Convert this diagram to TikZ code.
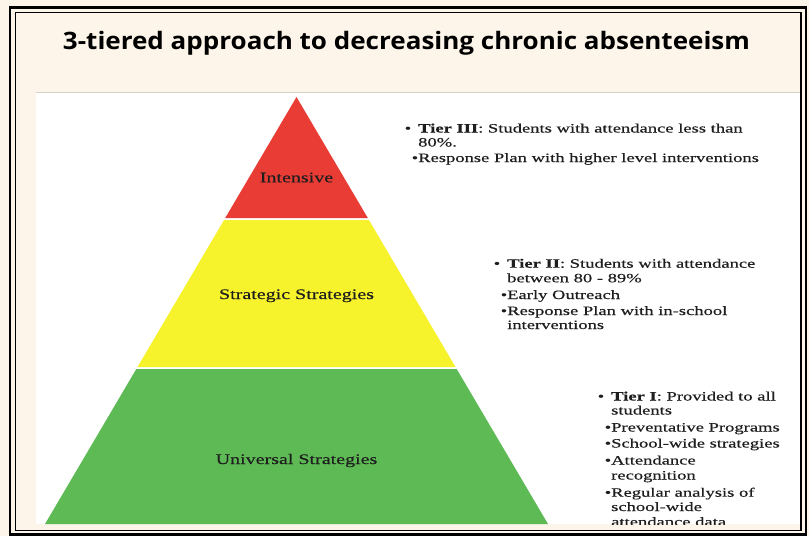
\documentclass[tikz,border=0pt]{standalone}
\usepackage{fontspec}
\usepackage{graphicx}
\setmainfont{Liberation Serif}
\newfontfamily\tms[FakeStretch=1.37,FakeBold=0.4]{Liberation Serif}
\newfontfamily\tmsb[FakeStretch=1.45,FakeBold=0.4]{Liberation Serif}
\newfontfamily\ttlfont{Open Sans}
\definecolor{cream}{HTML}{FDF5E9}
\definecolor{tred}{HTML}{E83C35}
\definecolor{tyellow}{HTML}{F6F22B}
\definecolor{tgreen}{HTML}{5DBA55}
\definecolor{txt}{HTML}{1E1E1E}
\definecolor{rule}{HTML}{D9D2C8}
\tikzset{
  lbl/.style={anchor=base, inner sep=0pt, text=txt, font=\tms\fontsize{14.6}{16}\selectfont},
  tl/.style={anchor=base west, inner sep=0pt, text=txt, font=\tmsb\fontsize{12.8}{14}\selectfont},
}
\newcommand{\firstbul}{\llap{•\hspace{7pt}}}
\newcommand{\subbul}{\llap{•}}
\begin{document}
\begin{tikzpicture}[x=1pt,y=-1pt]
\useasboundingbox (0,0) rectangle (809,536);
\fill[cream] (0,0) rectangle (809,536);
\draw[line width=2.4] (10,7.5) rectangle (806,534.5);
\draw[line width=1.4] (15.5,12.5) rectangle (801,530.5);
\fill[white] (36,92) rectangle (800,524);
\draw[rule, line width=0.8] (36,92) -- (800,92);
\node[anchor=base, inner sep=0pt, font=\ttlfont\bfseries\fontsize{24}{28}\selectfont] (title) at (406.5,49)
  {\resizebox{687pt}{\height}{3-tiered approach to decreasing chronic absenteeism}};
\begin{scope}
\clip (36,92) rectangle (800,524);
\fill[tred] (296.5,97) -- (367.8,218) -- (225.2,218) -- cycle;
\fill[tyellow] (224.1,220) -- (368.9,220) -- (455.5,367) -- (137.5,367) -- cycle;
\fill[tgreen] (136.3,369) -- (456.7,369) -- (548,524) -- (45,524) -- cycle;
\node[lbl] (intensive) at (296.5,182.3) {Intensive};
\node[lbl] (strategic) at (296.5,299) {Strategic Strategies};
\node[lbl] (universal) at (296.5,464) {Universal Strategies};
% Tier III
\node[tl] (a1) at (418,132.5) {\firstbul\textbf{Tier III}: Students with attendance less than};
\node[tl] (a2) at (418,146.5) {80\%.};
\node[tl] (a3) at (418,162) {\subbul Response Plan with higher level interventions};
% Tier II
\node[tl] (b1) at (507,267.7) {\firstbul\textbf{Tier II}: Students with attendance};
\node[tl] (b2) at (507,282.3) {between 80 - 89\%};
\node[tl] (b3) at (507,299) {\subbul Early Outreach};
\node[tl] (b4) at (507,315) {\subbul Response Plan with in-school};
\node[tl] (b5) at (507,329) {interventions};
% Tier I
\node[tl] (c1) at (611,400.5) {\firstbul\textbf{Tier I}: Provided to all};
\node[tl] (c2) at (611,414.5) {students};
\node[tl] (c3) at (611,431.5) {\subbul Preventative Programs};
\node[tl] (c4) at (611,447.5) {\subbul School-wide strategies};
\node[tl] (c5) at (611,464.5) {\subbul Attendance};
\node[tl] (c6) at (611,479.5) {recognition};
\node[tl] (c7) at (611,496.7) {\subbul Regular analysis of};
\node[tl] (c8) at (611,511) {school-wide};
\node[tl] (c9) at (611,526) {attendance data};
\end{scope}
\end{tikzpicture}
\end{document}
